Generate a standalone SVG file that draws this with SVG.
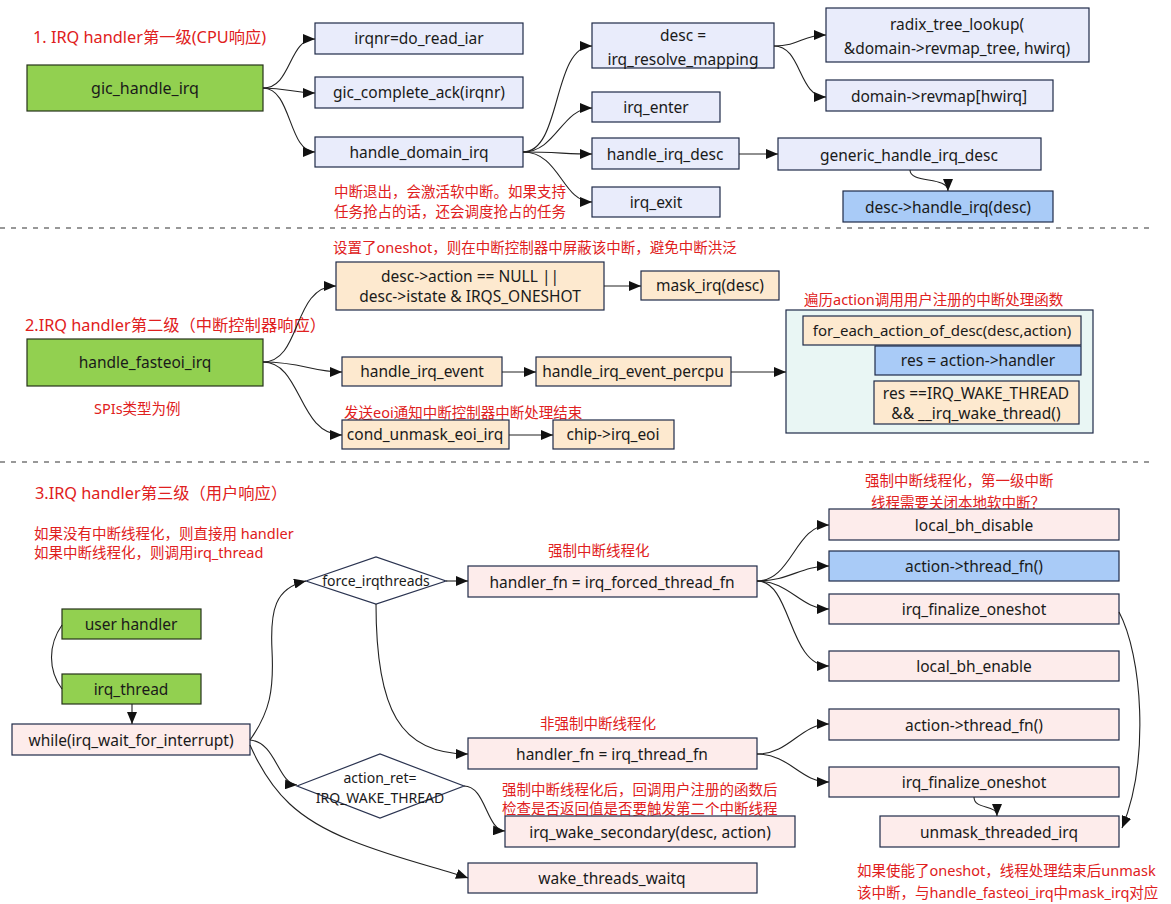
<svg xmlns="http://www.w3.org/2000/svg" width="1171" height="904" viewBox="0 0 1171 904">
<style>
text{font-family:"Noto Sans","Noto Sans CJK SC",sans-serif;}
.n{font-size:15.5px;fill:#1a1a1a;text-anchor:middle;}
.r{font-size:14.5px;fill:#e02020;}
.t{font-size:16.3px;fill:#e02020;}
.lav{fill:#e9ecfb;stroke:#1f2a48;stroke-width:1.2;}
.grn{fill:#92d050;stroke:#26331a;stroke-width:1.2;}
.pch{fill:#fde9cf;stroke:#1f2a48;stroke-width:1.2;}
.pnk{fill:#fdeceb;stroke:#1f2a48;stroke-width:1.2;}
.blu{fill:#a9cbf7;stroke:#1f2a48;stroke-width:1.2;}
.box{fill:#e9f6f4;stroke:#1f2a48;stroke-width:1.2;}
.dia{fill:#ffffff;stroke:#2a3350;stroke-width:1.2;}
.c path{fill:none;stroke:#222;stroke-width:1.1;marker-end:url(#a);}
.dash{stroke:#333;stroke-width:1.2;stroke-dasharray:5,6;}
</style>
<defs>
<marker id="a" markerWidth="12" markerHeight="10" refX="12" refY="5" orient="auto" markerUnits="userSpaceOnUse">
<path d="M0,0 L12,5 L0,10 Z" fill="#111"/>
</marker>
</defs>
<rect width="1171" height="904" fill="#ffffff"/>

<line class="dash" x1="0" y1="228" x2="1150" y2="228"/>
<line class="dash" x1="0" y1="462" x2="1150" y2="462"/>

<!-- Section 1 -->
<text class="t" x="33" y="43">1. IRQ handler第一级(CPU响应)</text>
<g id="gic_handle_irq"><rect class="grn" x="27" y="65" width="236" height="46"/><text class="n" x="145" y="94" style="font-size:16px">gic_handle_irq</text></g>
<g id="irqnr"><rect class="lav" x="315" y="23" width="208" height="31"/><text class="n" x="419" y="44">irqnr=do_read_iar</text></g>
<g id="gic_complete_ack"><rect class="lav" x="315" y="77" width="208" height="31"/><text class="n" x="419" y="98">gic_complete_ack(irqnr)</text></g>
<g id="handle_domain_irq"><rect class="lav" x="315" y="137" width="208" height="30"/><text class="n" x="419" y="158">handle_domain_irq</text></g>
<g id="desc_resolve"><rect class="lav" x="592" y="23" width="182" height="45"/><text class="n" x="683" y="41">desc =</text><text class="n" x="683" y="65">irq_resolve_mapping</text></g>
<g id="irq_enter"><rect class="lav" x="592" y="92" width="128" height="30"/><text class="n" x="656" y="113">irq_enter</text></g>
<g id="handle_irq_desc"><rect class="lav" x="592" y="138" width="147" height="31"/><text class="n" x="665" y="160">handle_irq_desc</text></g>
<g id="irq_exit"><rect class="lav" x="592" y="187" width="128" height="30"/><text class="n" x="656" y="208">irq_exit</text></g>
<g id="radix_tree_lookup"><rect class="lav" x="826" y="8" width="263" height="54"/><text class="n" x="957" y="30">radix_tree_lookup(</text><text class="n" x="957" y="54">&amp;domain-&gt;revmap_tree, hwirq)</text></g>
<g id="revmap"><rect class="lav" x="826" y="80" width="227" height="31"/><text class="n" x="939" y="102">domain-&gt;revmap[hwirq]</text></g>
<g id="generic_handle_irq_desc"><rect class="lav" x="778" y="138" width="263" height="32"/><text class="n" x="909" y="161">generic_handle_irq_desc</text></g>
<g id="desc_handle_irq"><rect class="blu" x="843" y="191" width="210" height="31"/><text class="n" x="948" y="213">desc-&gt;handle_irq(desc)</text></g>
<text class="r" x="334" y="197">中断退出，会激活软中断。如果支持</text>
<text class="r" x="334" y="217">任务抢占的话，还会调度抢占的任务</text>

<!-- Section 2 -->
<text class="t" x="25" y="331">2.IRQ handler第二级（中断控制器响应）</text>
<g id="handle_fasteoi_irq"><rect class="grn" x="27" y="339" width="236" height="47"/><text class="n" x="145" y="368">handle_fasteoi_irq</text></g>
<text class="r" x="94" y="414">SPIs类型为例</text>
<text class="r" x="333" y="253">设置了oneshot，则在中断控制器中屏蔽该中断，避免中断洪泛</text>
<g id="desc_action_null"><rect class="pch" x="336" y="262" width="268" height="48"/><text class="n" x="470" y="282">desc-&gt;action == NULL ||</text><text class="n" x="470" y="302">desc-&gt;istate &amp; IRQS_ONESHOT</text></g>
<g id="mask_irq"><rect class="pch" x="641" y="271" width="138" height="29"/><text class="n" x="710" y="291">mask_irq(desc)</text></g>
<g id="handle_irq_event"><rect class="pch" x="342" y="357" width="160" height="29"/><text class="n" x="422" y="377">handle_irq_event</text></g>
<g id="handle_irq_event_percpu"><rect class="pch" x="536" y="357" width="195" height="29"/><text class="n" x="633" y="377">handle_irq_event_percpu</text></g>
<text class="r" x="344" y="418">发送eoi通知中断控制器中断处理结束</text>
<g id="cond_unmask_eoi_irq"><rect class="pch" x="342" y="420" width="167" height="29"/><text class="n" x="425" y="440">cond_unmask_eoi_irq</text></g>
<g id="chip_irq_eoi"><rect class="pch" x="553" y="420" width="121" height="29"/><text class="n" x="613" y="440">chip-&gt;irq_eoi</text></g>
<text class="r" x="804" y="305">遍历action调用用户注册的中断处理函数</text>
<g id="action_loop"><rect class="box" x="786" y="310" width="307" height="123"/>
<rect class="pch" x="803" y="316" width="278" height="29"/><text class="n" x="942" y="336" style="font-size:15px">for_each_action_of_desc(desc,action)</text>
<rect class="blu" x="875" y="346" width="206" height="29"/><text class="n" x="978" y="366">res = action-&gt;handler</text>
<rect class="pch" x="874" y="381" width="205" height="43"/><text class="n" x="976" y="399">res ==IRQ_WAKE_THREAD</text><text class="n" x="976" y="419">&amp;&amp; __irq_wake_thread()</text></g>

<!-- Section 3 -->
<text class="t" x="35" y="499">3.IRQ handler第三级（用户响应）</text>
<text class="r" x="34" y="539">如果没有中断线程化，则直接用 handler</text>
<text class="r" x="34" y="558">如果中断线程化，则调用irq_thread</text>
<g id="user_handler"><rect class="grn" x="62" y="609" width="139" height="30"/><text class="n" x="131" y="630">user handler</text></g>
<g id="irq_thread"><rect class="grn" x="62" y="674" width="139" height="30"/><text class="n" x="131" y="695">irq_thread</text></g>
<g id="while_wait"><rect class="pnk" x="12" y="724" width="238" height="31"/><text class="n" x="131" y="746">while(irq_wait_for_interrupt)</text></g>
<g id="force_irqthreads"><polygon class="dia" points="306,581 376,557 446,581 376,604"/><text class="n" x="376" y="586" style="font-size:14px">force_irqthreads</text></g>
<text class="r" x="548" y="556">强制中断线程化</text>
<g id="forced_thread_fn"><rect class="pnk" x="468" y="566" width="289" height="31"/><text class="n" x="612" y="588">handler_fn = irq_forced_thread_fn</text></g>
<text class="r" x="540" y="729">非强制中断线程化</text>
<g id="irq_thread_fn"><rect class="pnk" x="468" y="738" width="289" height="31"/><text class="n" x="612" y="760">handler_fn = irq_thread_fn</text></g>
<g id="action_ret"><polygon class="dia" points="297,786 380,754 464,786 380,818"/><text class="n" x="380" y="783" style="font-size:14px">action_ret=</text><text class="n" x="380" y="803" style="font-size:14px">IRQ_WAKE_THREAD</text></g>
<text class="r" x="502" y="795">强制中断线程化后，回调用户注册的函数后</text>
<text class="r" x="502" y="814">检查是否返回值是否要触发第二个中断线程</text>
<g id="irq_wake_secondary"><rect class="pnk" x="505" y="816" width="290" height="31"/><text class="n" x="650" y="838">irq_wake_secondary(desc, action)</text></g>
<g id="wake_threads_waitq"><rect class="pnk" x="468" y="863" width="289" height="30"/><text class="n" x="612" y="884">wake_threads_waitq</text></g>
<text class="r" x="865" y="486">强制中断线程化，第一级中断</text>
<text class="r" x="871" y="508">线程需要关闭本地软中断？</text>
<g id="local_bh_disable"><rect class="pnk" x="829" y="509" width="290" height="31"/><text class="n" x="974" y="531">local_bh_disable</text></g>
<g id="thread_fn_forced"><rect class="blu" x="829" y="551" width="290" height="30"/><text class="n" x="974" y="572">action-&gt;thread_fn()</text></g>
<g id="finalize_forced"><rect class="pnk" x="829" y="594" width="290" height="30"/><text class="n" x="974" y="615">irq_finalize_oneshot</text></g>
<g id="local_bh_enable"><rect class="pnk" x="829" y="651" width="290" height="30"/><text class="n" x="974" y="672">local_bh_enable</text></g>
<g id="thread_fn"><rect class="pnk" x="829" y="709" width="290" height="31"/><text class="n" x="974" y="731">action-&gt;thread_fn()</text></g>
<g id="finalize"><rect class="pnk" x="829" y="767" width="290" height="30"/><text class="n" x="974" y="788">irq_finalize_oneshot</text></g>
<g id="unmask_threaded_irq"><rect class="pnk" x="880" y="816" width="239" height="31"/><text class="n" x="999" y="838">unmask_threaded_irq</text></g>
<text class="r" x="857" y="876">如果使能了oneshot，线程处理结束后unmask</text>
<text class="r" x="857" y="898">该中断，与handle_fasteoi_irq中mask_irq对应</text>

<!-- Connectors -->
<g id="connectors" class="c">
<path d="M263,88 C292,88 288,39 315,39"/>
<path d="M263,88 C288,88 292,93 315,93"/>
<path d="M263,88 C292,88 288,152 315,152"/>
<path d="M523,152 C562,152 552,46 592,46"/>
<path d="M523,152 C556,152 562,108 592,108"/>
<path d="M523,152 C556,152 566,154 592,154"/>
<path d="M523,152 C560,152 562,202 592,202"/>
<path d="M774,46 C800,46 802,35 826,35"/>
<path d="M774,46 C802,46 798,97 826,97"/>
<path d="M739,154 L778,154"/>
<path d="M910,170 C910,184 948,176 948,191"/>
<path d="M263,362 C302,362 292,286 336,286"/>
<path d="M263,362 C302,362 312,372 342,372"/>
<path d="M263,362 C302,362 298,435 342,435"/>
<path d="M604,286 L641,286"/>
<path d="M502,372 L536,372"/>
<path d="M731,372 L786,372"/>
<path d="M509,435 L553,435"/>
<path d="M62,625 C48,645 48,670 62,689" style="marker-end:none"/>
<path d="M132,704 L132,724"/>
<path d="M250,740 C270,712 274,690 272,650 C270,610 275,588 306,581"/>
<path d="M250,740 C276,742 278,784 297,785"/>
<path d="M250,745 C272,795 300,820 350,840 C400,860 440,868 468,878"/>
<path d="M446,581 L468,581"/>
<path d="M376,604 C376,710 400,754 468,754"/>
<path d="M464,786 C486,786 486,830 505,831"/>
<path d="M757,581 C792,581 795,525 829,525"/>
<path d="M757,581 C790,581 800,566 829,566"/>
<path d="M757,581 C790,581 800,609 829,609"/>
<path d="M757,581 C792,581 788,666 829,666"/>
<path d="M1119,612 C1142,655 1150,760 1122,828"/>
<path d="M757,754 C790,754 800,724 829,724"/>
<path d="M757,754 C790,754 800,782 829,782"/>
<path d="M974,797 C974,810 997,804 997,816"/>
</g>
</svg>
